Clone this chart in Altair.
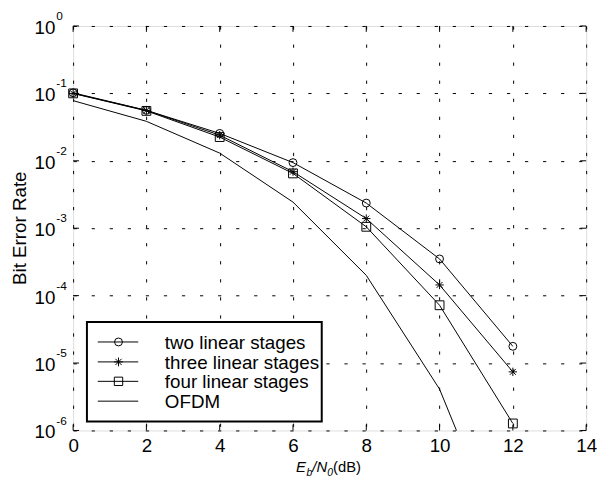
import altair as alt
import pandas as pd

# ---- data ----
x_vals = [0, 2, 4, 6, 8, 10, 12]
two_stage = [1.02e-1, 5.6e-2, 2.55e-2, 9.4e-3, 2.36e-3, 3.5e-4, 1.77e-5]
three_stage = [1.0e-1, 5.6e-2, 2.4e-2, 6.9e-3, 1.39e-3, 1.44e-4, 7.4e-6]
four_stage = [1.0e-1, 5.5e-2, 2.25e-2, 6.5e-3, 1.05e-3, 7.2e-5, 1.27e-6]
ofdm = [7.8e-2, 3.85e-2, 1.3e-2, 2.44e-3, 2.0e-4, 4.1e-6, 9e-9]
series_names = ["two linear stages", "three linear stages", "four linear stages", "OFDM"]
x_ticks = [0, 2, 4, 6, 8, 10, 12, 14]
y_exps = [0, -1, -2, -3, -4, -5, -6]

FONT = "Liberation Sans"
W, H = 520, 410
STAR = "M0,-1L0,1M-1,0L1,0M-0.7,-0.7L0.7,0.7M-0.7,0.7L0.7,-0.7"
shape_range = ["circle", STAR, "square"]
size_range = [64, 80, 72]

rows = []
for name, vals in zip(series_names, [two_stage, three_stage, four_stage, ofdm]):
    for xv, yv in zip(x_vals, vals):
        rows.append({"x": xv, "ber": yv, "series": name})
df = pd.DataFrame(rows)
df_marks = df[df["series"] != "OFDM"]

x_scale = alt.Scale(domain=[0, 14], nice=False, zero=False)
y_scale = alt.Scale(type="log", domain=[1e-6, 1], nice=False)

grid_dash = [3.3, 15]

lines = alt.Chart(df).mark_line(color="black", strokeWidth=1, clip=True).encode(
    x=alt.X("x:Q", scale=x_scale,
            axis=alt.Axis(values=x_ticks, grid=True, gridColor="black", gridDash=grid_dash,
                          gridOpacity=1, gridWidth=1, ticks=False, domain=False,
                          labelFontSize=19, labelFont=FONT, labelColor="black",
                          labelPadding=6, title=None, labelFlush=False)),
    y=alt.Y("ber:Q", scale=y_scale,
            axis=alt.Axis(values=[10.0 ** e for e in y_exps], grid=True, gridColor="black",
                          gridDash=grid_dash, gridOpacity=1, gridWidth=1, ticks=False,
                          domain=False, labels=False, title=None)),
    detail="series:N",
)

points = alt.Chart(df_marks).mark_point(filled=False, color="black", strokeWidth=1, opacity=1).encode(
    x=alt.X("x:Q", scale=x_scale),
    y=alt.Y("ber:Q", scale=y_scale),
    shape=alt.Shape("series:N", scale=alt.Scale(domain=series_names[:3], range=shape_range), legend=None),
    size=alt.Size("series:N", scale=alt.Scale(domain=series_names[:3], range=size_range), legend=None),
)

# inward ticks
df_xt = pd.DataFrame({"t": x_ticks})
df_yt = pd.DataFrame({"v": [10.0 ** e for e in y_exps], "exp": [str(e) for e in y_exps]})
xt_bottom = alt.Chart(df_xt).mark_rule(color="black", strokeWidth=1).encode(
    x=alt.X("t:Q", scale=x_scale), y=alt.value(H), y2=alt.value(H - 6))
xt_top = alt.Chart(df_xt).mark_rule(color="black", strokeWidth=1).encode(
    x=alt.X("t:Q", scale=x_scale), y=alt.value(0), y2=alt.value(6))
yt_left = alt.Chart(df_yt).mark_rule(color="black", strokeWidth=1).encode(
    y=alt.Y("v:Q", scale=y_scale), x=alt.value(0), x2=alt.value(6))
yt_right = alt.Chart(df_yt).mark_rule(color="black", strokeWidth=1).encode(
    y=alt.Y("v:Q", scale=y_scale), x=alt.value(W), x2=alt.value(W - 6))

# y tick labels 10^e
ylab_base = alt.Chart(df_yt).mark_text(align="right", baseline="alphabetic", dy=8,
                                       fontSize=19, font=FONT, color="black").encode(
    y=alt.Y("v:Q", scale=y_scale), x=alt.value(-18), text=alt.value("10"))
ylab_exp = alt.Chart(df_yt).mark_text(align="left", baseline="alphabetic", dy=-6,
                                      fontSize=12, font=FONT, color="black").encode(
    y=alt.Y("v:Q", scale=y_scale), x=alt.value(-17), text="exp:N")

one = pd.DataFrame({"a": [0]})

ytitle = alt.Chart(one).mark_text(angle=270, align="center", baseline="middle",
                                  fontSize=19, font=FONT, color="black").encode(
    x=alt.value(-54), y=alt.value(205), text=alt.value("Bit Error Rate"))

# x title E_b/N_0(dB)
tb = 452
xt_parts = [
    ("E", 226, 0, 15, "italic"),
    ("b", 236.5, 4, 10.5, "italic"),
    ("/N", 242.5, 0, 15, "italic"),
    ("0", 257.5, 4, 10.5, "italic"),
    ("(dB)", 263.5, 0, 15, "normal"),
]
xtitle_layers = []
for txt, px, dyy, fs, st in xt_parts:
    xtitle_layers.append(
        alt.Chart(one).mark_text(align="left", baseline="alphabetic", fontSize=fs, font=FONT,
                                 fontStyle=st, color="black").encode(
            x=alt.value(px), y=alt.value(tb + dyy), text=alt.value(txt)))

# legend (drawn manually)
leg_box = alt.Chart(one).mark_rect(fill="white", stroke="black", strokeWidth=2).encode(
    x=alt.value(14), x2=alt.value(252), y=alt.value(300), y2=alt.value(401))
leg_y = [320.3, 340.5, 360.2, 380.3]
leg_layers = [leg_box]
for i, name in enumerate(series_names):
    leg_layers.append(alt.Chart(one).mark_rule(color="black", strokeWidth=1).encode(
        x=alt.value(25), x2=alt.value(66), y=alt.value(leg_y[i])))
    if i < 3:
        leg_layers.append(alt.Chart(one).mark_point(filled=False, color="black", strokeWidth=1,
                                                    opacity=1, shape=shape_range[i],
                                                    size=size_range[i]).encode(
            x=alt.value(46), y=alt.value(leg_y[i])))
    leg_layers.append(alt.Chart(one).mark_text(align="left", baseline="middle", fontSize=19,
                                               font=FONT, color="black").encode(
        x=alt.value(93), y=alt.value(leg_y[i] + 1), text=alt.value(name)))

chart = alt.layer(
    lines, points, xt_bottom, xt_top, yt_left, yt_right,
    ylab_base, ylab_exp, ytitle, *xtitle_layers, *leg_layers
).properties(
    width=W, height=H,
    autosize=alt.AutoSizeParams(type="none"),
    padding={"left": 66, "top": 15, "right": 11, "bottom": 47},
).configure_view(stroke="black", strokeWidth=2).configure(background="white")

chart.save("out.html", embed_options={"renderer": "svg", "actions": False})
